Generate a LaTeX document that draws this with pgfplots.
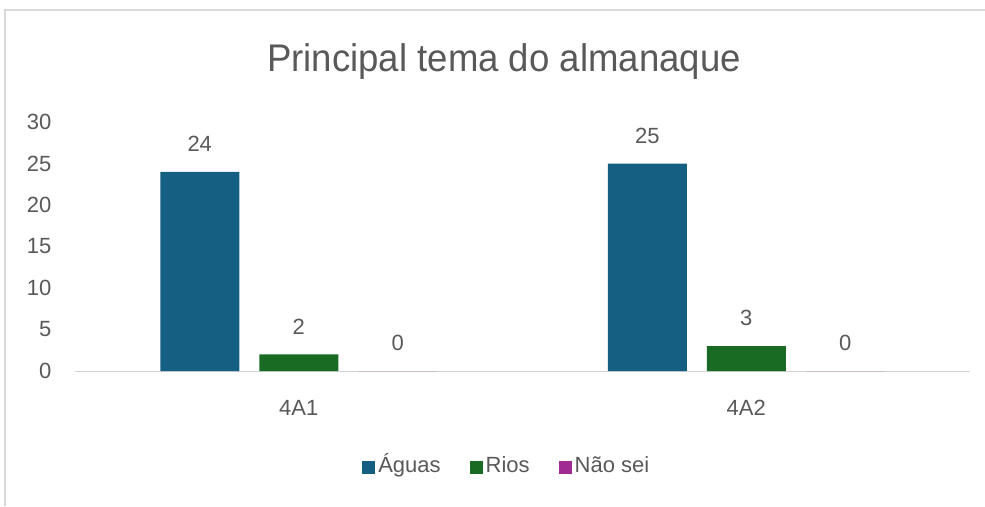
\documentclass[border=0pt]{standalone}
\usepackage{pgfplots}
\pgfplotsset{compat=1.18}
\usepackage{fontspec}
\setmainfont{Liberation Sans}
\newfontfamily\titlefont{Liberation Sans}[FakeStretch=0.95]
\definecolor{cblue}{HTML}{156082}
\definecolor{cgreen}{HTML}{196B24}
\definecolor{cmag}{HTML}{A02B93}
\definecolor{txt}{HTML}{595959}
\begin{document}
\begin{tikzpicture}[x=1pt,y=1pt]
\path[use as bounding box] (0,0) rectangle (985,-506);
\draw[gray!30, line width=1.2pt] (5,-506) -- (5,-10) -- (985,-10);
\node[text=txt, font=\titlefont\fontsize{38.5}{44}\selectfont] at (504,-62) {Principal tema do almanaque};
\begin{axis}[
  at={(75pt,-371pt)}, anchor=south west,
  scale only axis, width=895pt, height=249pt,
  xmin=-0.5, xmax=1.5, ymin=0, ymax=30,
  ybar=20pt, bar width=79pt,
  xtick=data, xticklabels={4A1,4A2},
  ytick={0,5,...,30},
  major tick length=0pt,
  axis x line=bottom, axis y line=left,
  x axis line style={draw=gray!35, line width=1pt, -},
  y axis line style={draw=none},
  tick label style={text=txt, font=\fontsize{22}{26}\selectfont},
  /pgf/number format/assume math mode=true,
  yticklabel style={xshift=-20pt},
  xticklabel style={yshift=-26pt},
  nodes near coords,
  every node near coord/.append style={text=txt, font=\fontsize{22}{26}\selectfont, anchor=center, yshift=28pt},
  legend columns=-1,
  legend style={at={(0.483,-0.386)}, anchor=center, draw=none, fill=none, text=txt,
     font=\fontsize{22}{26}\selectfont, inner sep=0pt,
     /tikz/every even column/.append style={column sep=26pt},
     /tikz/every odd column/.append style={column sep=0pt},
     nodes={inner sep=3pt, text height=16pt, text depth=5pt, anchor=base west}},
  legend image code/.code={\fill[#1] (0pt,-1pt) rectangle (13pt,12pt);},
  clip=false,
]
\addplot[fill=cblue, draw=none] coordinates {(0,24) (1,25)};
\addplot[fill=cgreen, draw=none] coordinates {(0,2) (1,3)};
\addplot[fill=cmag, draw=none] coordinates {(0,0) (1,0)};
\legend{Águas, Rios, Não sei}
\end{axis}
\end{tikzpicture}
\end{document}
